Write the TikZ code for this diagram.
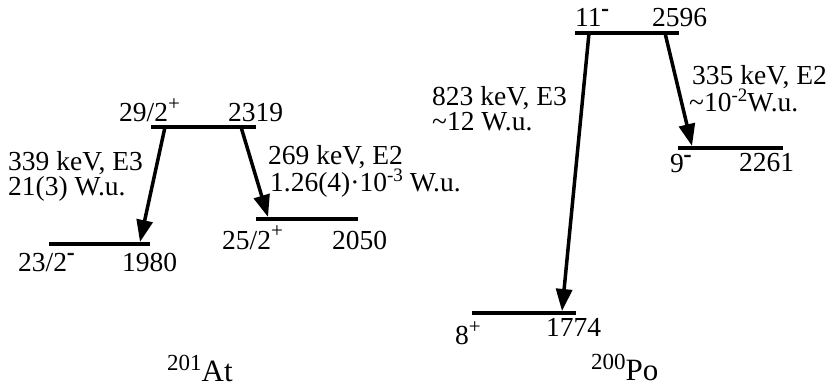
\documentclass[tikz,border=0pt]{standalone}
\usepackage{fontspec}
\setmainfont{Liberation Serif}
\newfontfamily\heavyfont[FakeBold=3]{Liberation Serif}
\usetikzlibrary{arrows.meta}
\newcommand\supplus{\raisebox{11pt}{\fontsize{21}{21}\selectfont +}}
\newcommand\supminus{\raisebox{12pt}{\fontsize{21}{21}\heavyfont -}}
\newcommand\supexp[1]{\raisebox{10pt}{\fontsize{19}{19}\selectfont #1}}
\newcommand\supmass[1]{\raisebox{11pt}{\fontsize{23}{23}\selectfont #1}}
\begin{document}
\begin{tikzpicture}[x=1pt,y=-1pt,
  level/.style={line width=4.5pt},
  trans/.style={line width=3.5pt,-{Triangle[length=22pt,width=16pt]}},
  lbl/.style={anchor=base west,inner sep=0pt,font=\fontsize{27.5}{30}\selectfont},
  glbl/.style={anchor=base west,inner sep=0pt,align=left,font=\fontsize{27.5}{25}\selectfont},
  nuc/.style={anchor=base west,inner sep=0pt,font=\fontsize{31}{34}\selectfont}]
\useasboundingbox (0,0) rectangle (829,387);
% ---- 201At levels
\coordinate (l29a) at (151,127); \coordinate (l29b) at (256,127);
\coordinate (l23a) at (49,244);  \coordinate (l23b) at (150,244);
\coordinate (l25a) at (256,219); \coordinate (l25b) at (358,219);
\draw[level] (l29a) -- (l29b);
\draw[level] (l23a) -- (l23b);
\draw[level] (l25a) -- (l25b);
\coordinate (t1s) at (165,127); \coordinate (t1e) at (140,242);
\coordinate (t2s) at (241,127); \coordinate (t2e) at (268,217);
\draw[trans] (t1s) -- (t1e);
\draw[trans] (t2s) -- (t2e);
% ---- 200Po levels
\coordinate (l11a) at (575,33);  \coordinate (l11b) at (679,33);
\coordinate (l9a) at (678,148);  \coordinate (l9b) at (783,148);
\coordinate (l8a) at (472,313);  \coordinate (l8b) at (576,313);
\draw[level] (l11a) -- (l11b);
\draw[level] (l9a) -- (l9b);
\draw[level] (l8a) -- (l8b);
\coordinate (t3s) at (589,33); \coordinate (t3e) at (562,311);
\coordinate (t4s) at (665,33); \coordinate (t4e) at (692,146);
\draw[trans] (t3s) -- (t3e);
\draw[trans] (t4s) -- (t4e);
% ---- labels 201At
\node[lbl] (s29) at (119,122) {29/2\supplus};
\node[lbl] (e29) at (228,122) {2319};
\node[glbl] (g1) at (8,196) {339 keV, E3\\21(3) W.u.};
\node[glbl] (g2) at (268,192) {269 keV, E2\\\hspace*{2pt}1.26(4)\textperiodcentered10\supexp{-3} W.u.};
\node[lbl] (s23) at (18,271) {23/2\supminus};
\node[lbl] (e23) at (122,271) {1980};
\node[lbl] (s25) at (222,249) {25/2\supplus};
\node[lbl] (e25) at (332,249) {2050};
\node[nuc] (at) at (167,381) {\supmass{201}At};
% ---- labels 200Po
\node[lbl] (s11) at (575,27) {11\supminus};
\node[lbl] (e11) at (652,27) {2596};
\node[glbl] (g3) at (432,131) {823 keV, E3\\\textasciitilde12 W.u.};
\node[glbl] (g4) at (689,112) {\hspace*{3pt}335 keV, E2\\\textasciitilde10\supexp{-2}W.u.};
\node[lbl] (s9) at (670,173) {9\supminus};
\node[lbl] (e9) at (739,172) {2261};
\node[lbl] (s8) at (455,344) {8\supplus};
\node[lbl] (e8) at (546,336) {1774};
\node[nuc] (po) at (591,380) {\supmass{200}Po};
\end{tikzpicture}
\end{document}
